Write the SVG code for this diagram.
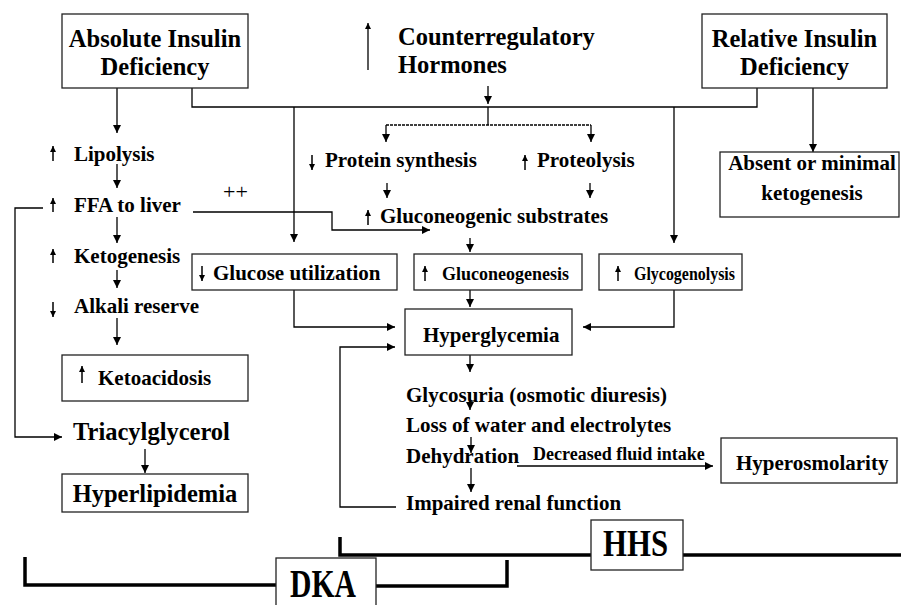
<svg xmlns="http://www.w3.org/2000/svg" width="901" height="605" viewBox="0 0 901 605">
<defs>
<marker id="arr" viewBox="0 0 10 10" refX="10" refY="5" markerWidth="9" markerHeight="8" markerUnits="userSpaceOnUse" orient="auto"><path d="M0,0 L10,5 L0,10 z" fill="#000"/></marker>
<marker id="sarr" viewBox="0 0 10 10" refX="10" refY="5" markerWidth="7" markerHeight="6" markerUnits="userSpaceOnUse" orient="auto"><path d="M0,0 L10,5 L0,10 z" fill="#000"/></marker>
<marker id="tarr" viewBox="0 0 10 10" refX="10" refY="5" markerWidth="10" markerHeight="6" markerUnits="userSpaceOnUse" orient="auto"><path d="M0,0 L10,5 L0,10 z" fill="#000"/></marker>
</defs>
<style>
text{font-family:"Liberation Serif","Times New Roman",serif;font-weight:bold;fill:#000}
.h{font-size:24.5px}
.b{font-size:21px}
.s{font-size:18px}
.c{text-anchor:middle}
.box{fill:#fff;stroke:#222;stroke-width:1.3}
.ln{fill:none;stroke:#000;stroke-width:1.3}
.ind{fill:none;stroke:#000;stroke-width:1.5;marker-end:url(#sarr)}
.thick{fill:none;stroke:#000;stroke-width:3.5}
</style>
<rect width="901" height="605" fill="#fff"/>

<g id="connectors">
<path class="ln" marker-end="url(#arr)" d="M117,88 V133"/>
<path class="ln" marker-end="url(#arr)" d="M117,164 V188"/>
<path class="ln" marker-end="url(#arr)" d="M117,217 V243"/>
<path class="ln" marker-end="url(#arr)" d="M117,270 V288"/>
<path class="ln" marker-end="url(#arr)" d="M117,318 V345"/>
<path class="ln" marker-end="url(#arr)" d="M43,208 H15 V437 H62"/>
<path class="ln" marker-end="url(#arr)" d="M145,449 V473"/>
<path class="ln" d="M192,88 V107 H757 V88"/>
<path class="ln" marker-end="url(#arr)" d="M294,107 V242"/>
<path class="ln" marker-end="url(#arr)" d="M674,107 V243"/>
<path class="ln" marker-end="url(#arr)" d="M488,86 V104"/>
<path class="ln" d="M488,107 V125"/>
<path class="ln" stroke-dasharray="3,1" d="M386,125 H591"/>
<path class="ln" marker-end="url(#arr)" d="M386,125 V142"/>
<path class="ln" marker-end="url(#arr)" d="M591,125 V142"/>
<path class="ln" marker-end="url(#arr)" d="M387,183 V198"/>
<path class="ln" marker-end="url(#arr)" d="M590,183 V198"/>
<path class="ln" marker-end="url(#arr)" d="M193,212 H332 V230 H430"/>
<path class="ln" marker-end="url(#arr)" d="M470,238 V252"/>
<path class="ln" marker-end="url(#arr)" d="M294,290 V327 H395"/>
<path class="ln" marker-end="url(#arr)" d="M470,290 V307"/>
<path class="ln" marker-end="url(#arr)" d="M674,290 V327 H583"/>
<path class="ln" marker-end="url(#arr)" d="M396,507 H340 V347 H395"/>
<path class="ln" marker-end="url(#arr)" d="M470,355 V372"/>
<path class="ln" marker-end="url(#arr)" d="M470,393 V410"/>
<path class="ln" marker-end="url(#arr)" d="M471,437 V453"/>
<path class="ln" marker-end="url(#arr)" d="M471,468 V492"/>
<path class="ln" marker-end="url(#arr)" d="M517,466 H713"/>
<path class="ln" marker-end="url(#arr)" d="M813,88 V152"/>
<path class="thick" d="M25,557 V585 H276"/>
<path class="thick" d="M366,586 H507 V560"/>
<path class="thick" d="M340,537 V555 H591"/>
<path class="thick" d="M680,555 H901"/>
</g>

<g id="absolute">
<rect class="box" x="62" y="14" width="186" height="74"/>
<text class="h c" x="155" y="47">Absolute Insulin</text>
<text class="h c" x="155" y="75">Deficiency</text>
</g>
<g id="counter">
<path class="ln" marker-end="url(#tarr)" d="M368,70 V23"/>
<text class="h" x="398" y="45">Counterregulatory</text>
<text class="h" x="398" y="73">Hormones</text>
</g>
<g id="relative">
<rect class="box" x="702" y="14" width="185" height="74"/>
<text class="h c" x="794.5" y="47">Relative Insulin</text>
<text class="h c" x="794.5" y="75">Deficiency</text>
</g>
<g id="absent">
<rect class="box" x="720" y="152" width="179" height="65"/>
<text class="b c" x="812" y="170">Absent or minimal</text>
<text class="b c" x="812" y="200">ketogenesis</text>
</g>
<g id="lipolysis">
<path class="ind" d="M53,161 V146"/>
<text class="b" x="74" y="161">Lipolysis</text>
</g>
<g id="ffa">
<path class="ind" d="M53,212 V198"/>
<text class="b" x="74" y="212">FFA to liver</text>
<text x="223" y="199" style="font-weight:normal;font-size:22px">++</text>
</g>
<g id="ketogenesis">
<path class="ind" d="M53,263 V249"/>
<text class="b" x="74" y="263">Ketogenesis</text>
</g>
<g id="alkali">
<path class="ind" d="M53,302 V317"/>
<text class="b" x="74" y="313">Alkali reserve</text>
</g>
<g id="ketoacidosis">
<rect class="box" x="62" y="355" width="186" height="46"/>
<path class="ind" d="M82,383 V366"/>
<text class="b" x="98" y="385">Ketoacidosis</text>
</g>
<g id="triacylglycerol">
<text class="h" x="73" y="440">Triacylglycerol</text>
</g>
<g id="hyperlipidemia">
<rect class="box" x="62" y="474" width="186" height="38"/>
<text class="h c" x="155" y="502">Hyperlipidemia</text>
</g>
<g id="protein">
<path class="ind" d="M312,155 V170"/>
<text class="b" x="325" y="167">Protein synthesis</text>
</g>
<g id="proteolysis">
<path class="ind" d="M525,170 V155"/>
<text class="b" x="537" y="167">Proteolysis</text>
</g>
<g id="substrates">
<path class="ind" d="M368,225 V210"/>
<text class="b" x="380" y="223">Gluconeogenic substrates</text>
</g>
<g id="glucose">
<rect class="box" x="192" y="254" width="205" height="36"/>
<path class="ind" d="M202,266 V281"/>
<text class="b" x="213" y="280">Glucose utilization</text>
</g>
<g id="gluconeogenesis">
<rect class="box" x="414" y="254" width="168" height="36"/>
<path class="ind" d="M425,281 V266"/>
<text class="s" x="442" y="280">Gluconeogenesis</text>
</g>
<g id="glycogenolysis">
<rect class="box" x="599" y="254" width="143" height="36"/>
<path class="ind" d="M618,281 V266"/>
<text class="s" x="634" y="280" textLength="101" lengthAdjust="spacingAndGlyphs">Glycogenolysis</text>
</g>
<g id="hyperglycemia">
<rect class="box" x="405" y="309" width="167" height="46"/>
<text class="b" x="423" y="342">Hyperglycemia</text>
</g>
<g id="glycosuria"><text class="b" x="406" y="402">Glycosuria (osmotic diuresis)</text></g>
<g id="loss"><text class="b" x="406" y="432">Loss of water and electrolytes</text></g>
<g id="dehydration"><text class="b" x="406" y="463">Dehydration</text>
<text class="s" x="533" y="460">Decreased fluid intake</text></g>
<g id="renal"><text class="b" x="406" y="510">Impaired renal function</text></g>
<g id="hyperosmolarity">
<rect class="box" x="721" y="438" width="176" height="45"/>
<text class="b" x="736" y="470">Hyperosmolarity</text>
</g>
<g id="dka">
<rect class="box" x="276" y="558" width="100" height="52"/>
<text x="290" y="597" style="font-size:40px" textLength="66" lengthAdjust="spacingAndGlyphs">DKA</text>
</g>
<g id="hhs">
<rect class="box" x="591" y="520" width="92" height="50"/>
<text x="603" y="556" style="font-size:38px" textLength="65" lengthAdjust="spacingAndGlyphs">HHS</text>
</g>
</svg>
